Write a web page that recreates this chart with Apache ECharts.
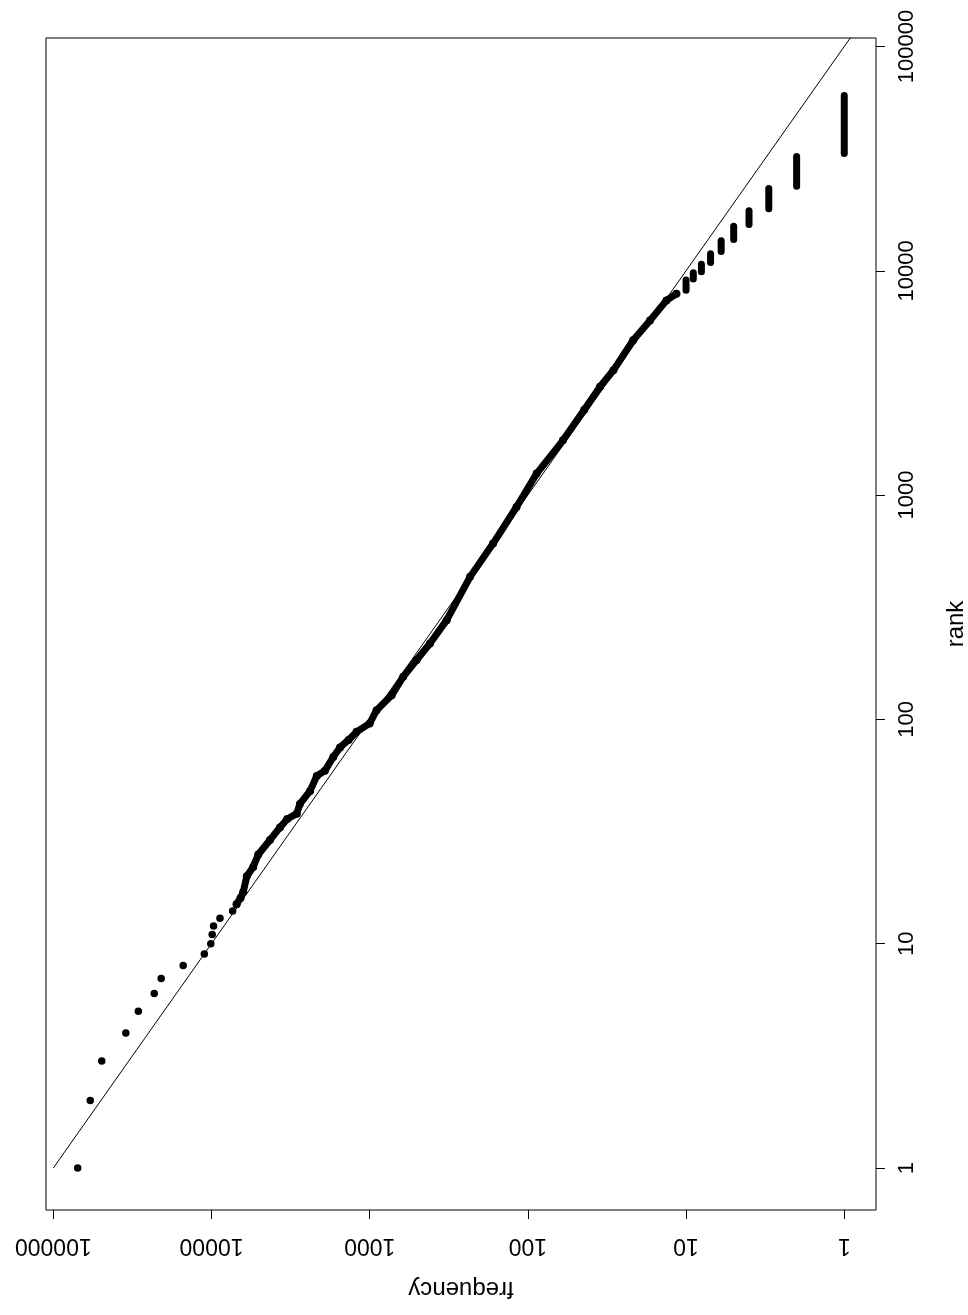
<!DOCTYPE html>
<html>
<head>
<meta charset="utf-8">
<script src="https://cdn.jsdelivr.net/npm/echarts@6/dist/echarts.min.js"></script>
<style>
  html, body { margin: 0; padding: 0; background: #fff; }
  #chart { width: 968px; height: 1315px; }
</style>
</head>
<body>
<div id="chart"></div>
<script>
// Tick labels
const rankTicks = [1, 10, 100, 1000, 10000, 100000];
const freqTicks = [1, 10, 100, 1000, 10000, 100000];

// Individually visible top-ranked points
const topRanks = [1, 2, 3, 4, 5, 6, 7, 8, 9, 10, 11, 12, 13, 14, 15];
const topFreqs = [70100, 58400, 49400, 34800, 29000, 23000, 20800, 15100, 11100, 10100, 9900, 9700, 8840, 7350, 6940];

// Dense middle band (rank, frequency)
const bandRanks = [15, 16, 17, 20, 22, 25, 29, 33, 36, 38, 42, 48, 56, 59, 68, 75, 81, 88, 96, 110, 128, 155, 184, 218, 277, 432, 608, 885, 1247, 1754, 2400, 3041, 3600, 4900, 6010, 7380, 7900];
const bandFreqs = [6940, 6550, 6300, 5980, 5450, 5060, 4270, 3690, 3320, 2890, 2760, 2380, 2160, 1920, 1700, 1540, 1360, 1210, 1000, 904, 726, 614, 505, 416, 326, 232, 166, 118, 88, 60, 44, 35, 28.8, 21.6, 16.9, 13.3, 11.5];

// Tied low frequencies: runs of consecutive ranks
const runFreqs = [10, 9, 8, 7, 6, 5, 4, 3, 2, 1];
const runLowRank = [8200, 9200, 9900, 10900, 12200, 13800, 16100, 18900, 23800, 33300];
const runHighRank = [9100, 9800, 10700, 11900, 13600, 15800, 18500, 23300, 32300, 60500];

// Reference line f = 100000 / rank
const refRanks = [1, 120000];
const refFreqs = [100000, 100000 / 120000];

const FONT = '"Liberation Sans", Arial, Helvetica, sans-serif';

const series = [];
series.push({
  type: 'line',
  data: refRanks.map((r, i) => [refFreqs[i], r]),
  showSymbol: false,
  symbol: 'none',
  clip: true,
  lineStyle: { color: '#000', width: 1 },
  silent: true,
  z: 1
});
series.push({
  type: 'line',
  data: bandRanks.map((r, i) => [bandFreqs[i], r]),
  symbol: 'circle',
  symbolSize: 8,
  showSymbol: true,
  showAllSymbol: true,
  itemStyle: { color: '#000', opacity: 1 },
  lineStyle: { color: '#000', width: 7, cap: 'round', join: 'round' },
  z: 2
});
runFreqs.forEach((f, i) => {
  series.push({
    type: 'line',
    data: [[f, runLowRank[i]], [f, runHighRank[i]]],
    symbol: 'none',
    showSymbol: false,
    lineStyle: { color: '#000', width: 7, cap: 'round' },
    z: 2
  });
});
series.push({
  type: 'scatter',
  data: topRanks.map((r, i) => [topFreqs[i], r]),
  symbol: 'circle',
  symbolSize: 7.5,
  itemStyle: { color: '#000', opacity: 1 },
  z: 3
});

const chart = echarts.init(document.getElementById('chart'), null, { renderer: 'canvas' });
chart.setOption({
  animation: false,
  backgroundColor: '#fff',
  grid: {
    show: true,
    left: 46, top: 38, width: 830, height: 1172,
    borderColor: '#000', borderWidth: 1,
    backgroundColor: 'transparent',
    containLabel: false,
    outerBoundsMode: 'none'
  },
  xAxis: {
    type: 'log',
    logBase: 10,
    min: 0.63,
    max: 111200,
    inverse: true,
    position: 'bottom',
    name: 'frequency',
    nameLocation: 'middle',
    nameRotate: 180,
    nameGap: 67,
    nameTextStyle: { fontFamily: FONT, fontSize: 24, color: '#000' },
    axisLine: { show: false },
    axisTick: { show: true, inside: false, length: 9, customValues: freqTicks, lineStyle: { color: '#000', width: 1 } },
    axisLabel: {
      show: true, customValues: freqTicks, rotate: 180, margin: 24,
      fontFamily: FONT, fontSize: 23, color: '#000',
      formatter: v => String(Math.round(v))
    },
    splitLine: { show: false },
    minorTick: { show: false }
  },
  yAxis: {
    type: 'log',
    logBase: 10,
    min: 0.65,
    max: 109100,
    position: 'right',
    name: 'rank',
    nameLocation: 'middle',
    nameRotate: 90,
    nameGap: 68,
    nameTextStyle: { fontFamily: FONT, fontSize: 24, color: '#000' },
    axisLine: { show: false },
    axisTick: { show: true, inside: false, length: 9, customValues: rankTicks, lineStyle: { color: '#000', width: 1 } },
    axisLabel: {
      show: true, customValues: rankTicks, rotate: 90, margin: 20,
      fontFamily: FONT, fontSize: 22, color: '#000',
      formatter: v => String(Math.round(v))
    },
    splitLine: { show: false },
    minorTick: { show: false }
  },
  series: series
});
</script>
</body>
</html>
